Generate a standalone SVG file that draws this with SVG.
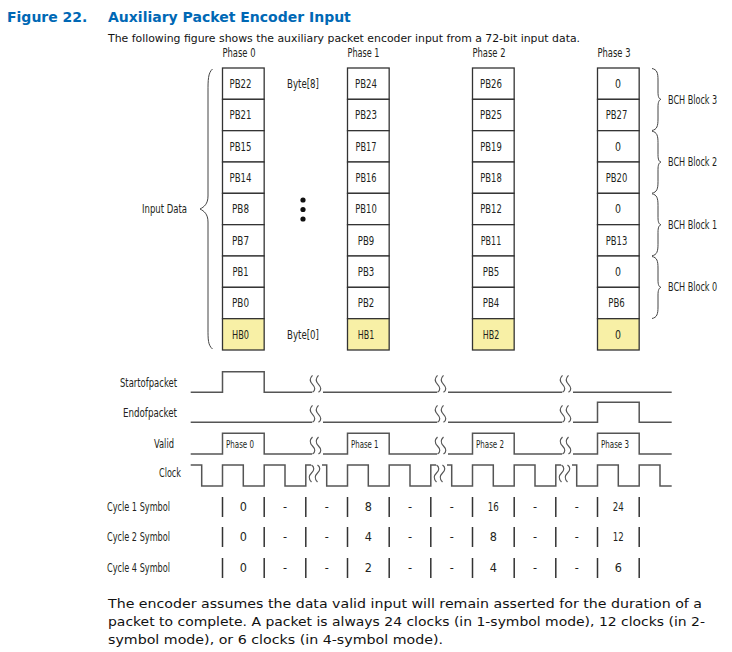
<svg xmlns="http://www.w3.org/2000/svg" width="732" height="652" viewBox="0 0 732 652">
<style>
.c{font-family:"DejaVu Sans Condensed","Liberation Sans Narrow","Liberation Sans",sans-serif;fill:#231f20}
.f12{font-size:12.5px}
.f10{font-size:10px}
.cell{fill:#fff;stroke:#333;stroke-width:1.3}
.hb{fill:#f8f0a6;stroke:#333;stroke-width:1.3}
.t{font-size:13px;text-anchor:middle}
.brace{fill:none;stroke:#444;stroke-width:1}
.w{fill:none;stroke:#555;stroke-width:1.5}
.bar{stroke:#333;stroke-width:1.5}
.hdr{font-family:"DejaVu Sans",Verdana,sans-serif;font-weight:bold;font-size:14px;fill:#0068b5}
.body{font-family:"DejaVu Sans",Tahoma,sans-serif;fill:#111}
</style>
<defs>
<path id="sq" d="M-5,0 c3,-2 3,-5 0,-8 c-3,-3 -3,-6 0,-9 M1,0 c3,-2 3,-5 0,-8 c-3,-3 -3,-6 0,-9" class="brace" style="stroke:#555;stroke-width:1.2"/>
<path id="sqd" d="M-5,0 c3,2 3,5 0,8 c-3,3 -3,6 0,9 M1,0 c3,2 3,5 0,8 c-3,3 -3,6 0,9" class="brace" style="stroke:#555;stroke-width:1.2"/>
</defs>
<text class="hdr" x="7" y="22">Figure 22.</text>
<text class="hdr" x="108" y="22">Auxiliary Packet Encoder Input</text>
<text class="body" x="108" y="42" font-size="10" textLength="472" lengthAdjust="spacingAndGlyphs">The following figure shows the auxiliary packet encoder input from a 72-bit input data.</text>

<g id="phase0">
<text class="c f12" x="222.5" y="57" textLength="33" lengthAdjust="spacingAndGlyphs">Phase 0</text>
<rect class="cell" x="222.5" y="68" width="41.67" height="31.33"/>
<rect class="cell" x="222.5" y="99.33" width="41.67" height="31.33"/>
<rect class="cell" x="222.5" y="130.67" width="41.67" height="31.33"/>
<rect class="cell" x="222.5" y="162" width="41.67" height="31.33"/>
<rect class="cell" x="222.5" y="193.33" width="41.67" height="31.33"/>
<rect class="cell" x="222.5" y="224.67" width="41.67" height="31.33"/>
<rect class="cell" x="222.5" y="256" width="41.67" height="31.33"/>
<rect class="cell" x="222.5" y="287.33" width="41.67" height="31.33"/>
<rect class="hb" x="222.5" y="318.67" width="41.67" height="31.33"/>
<g class="c t">
<text x="240.5" y="88" textLength="22" lengthAdjust="spacingAndGlyphs">PB22</text><text x="240.5" y="119.3" textLength="22" lengthAdjust="spacingAndGlyphs">PB21</text><text x="240.5" y="150.7" textLength="22" lengthAdjust="spacingAndGlyphs">PB15</text><text x="240.5" y="182" textLength="22" lengthAdjust="spacingAndGlyphs">PB14</text><text x="240.5" y="213.3" textLength="17" lengthAdjust="spacingAndGlyphs">PB8</text><text x="240.5" y="244.7" textLength="17" lengthAdjust="spacingAndGlyphs">PB7</text><text x="240.5" y="276" textLength="16" lengthAdjust="spacingAndGlyphs">PB1</text><text x="240.5" y="307.3" textLength="17" lengthAdjust="spacingAndGlyphs">PB0</text><text x="240.5" y="338.7" textLength="17" lengthAdjust="spacingAndGlyphs">HB0</text>
</g>
</g>
<g id="phase1">
<text class="c f12" x="347.5" y="57" textLength="32" lengthAdjust="spacingAndGlyphs">Phase 1</text>
<rect class="cell" x="347.5" y="68" width="41.67" height="31.33"/>
<rect class="cell" x="347.5" y="99.33" width="41.67" height="31.33"/>
<rect class="cell" x="347.5" y="130.67" width="41.67" height="31.33"/>
<rect class="cell" x="347.5" y="162" width="41.67" height="31.33"/>
<rect class="cell" x="347.5" y="193.33" width="41.67" height="31.33"/>
<rect class="cell" x="347.5" y="224.67" width="41.67" height="31.33"/>
<rect class="cell" x="347.5" y="256" width="41.67" height="31.33"/>
<rect class="cell" x="347.5" y="287.33" width="41.67" height="31.33"/>
<rect class="hb" x="347.5" y="318.67" width="41.67" height="31.33"/>
<g class="c t">
<text x="366" y="88" textLength="22" lengthAdjust="spacingAndGlyphs">PB24</text><text x="366" y="119.3" textLength="22" lengthAdjust="spacingAndGlyphs">PB23</text><text x="366" y="150.7" textLength="21" lengthAdjust="spacingAndGlyphs">PB17</text><text x="366" y="182" textLength="21" lengthAdjust="spacingAndGlyphs">PB16</text><text x="366" y="213.3" textLength="21.5" lengthAdjust="spacingAndGlyphs">PB10</text><text x="366" y="244.7" textLength="16.5" lengthAdjust="spacingAndGlyphs">PB9</text><text x="366" y="276" textLength="16.5" lengthAdjust="spacingAndGlyphs">PB3</text><text x="366" y="307.3" textLength="16.5" lengthAdjust="spacingAndGlyphs">PB2</text><text x="366" y="338.7" textLength="16.5" lengthAdjust="spacingAndGlyphs">HB1</text>
</g>
</g>
<g id="phase2">
<text class="c f12" x="472.5" y="57" textLength="33" lengthAdjust="spacingAndGlyphs">Phase 2</text>
<rect class="cell" x="472.5" y="68" width="41.67" height="31.33"/>
<rect class="cell" x="472.5" y="99.33" width="41.67" height="31.33"/>
<rect class="cell" x="472.5" y="130.67" width="41.67" height="31.33"/>
<rect class="cell" x="472.5" y="162" width="41.67" height="31.33"/>
<rect class="cell" x="472.5" y="193.33" width="41.67" height="31.33"/>
<rect class="cell" x="472.5" y="224.67" width="41.67" height="31.33"/>
<rect class="cell" x="472.5" y="256" width="41.67" height="31.33"/>
<rect class="cell" x="472.5" y="287.33" width="41.67" height="31.33"/>
<rect class="hb" x="472.5" y="318.67" width="41.67" height="31.33"/>
<g class="c t">
<text x="491" y="88" textLength="22" lengthAdjust="spacingAndGlyphs">PB26</text><text x="491" y="119.3" textLength="22" lengthAdjust="spacingAndGlyphs">PB25</text><text x="491" y="150.7" textLength="21.5" lengthAdjust="spacingAndGlyphs">PB19</text><text x="491" y="182" textLength="21.5" lengthAdjust="spacingAndGlyphs">PB18</text><text x="491" y="213.3" textLength="21.5" lengthAdjust="spacingAndGlyphs">PB12</text><text x="491" y="244.7" textLength="20.5" lengthAdjust="spacingAndGlyphs">PB11</text><text x="491" y="276" textLength="16.5" lengthAdjust="spacingAndGlyphs">PB5</text><text x="491" y="307.3" textLength="16.5" lengthAdjust="spacingAndGlyphs">PB4</text><text x="491" y="338.7" textLength="16.5" lengthAdjust="spacingAndGlyphs">HB2</text>
</g>
</g>
<g id="phase3">
<text class="c f12" x="597.5" y="57" textLength="33" lengthAdjust="spacingAndGlyphs">Phase 3</text>
<rect class="cell" x="597.5" y="68" width="41.67" height="31.33"/>
<rect class="cell" x="597.5" y="99.33" width="41.67" height="31.33"/>
<rect class="cell" x="597.5" y="130.67" width="41.67" height="31.33"/>
<rect class="cell" x="597.5" y="162" width="41.67" height="31.33"/>
<rect class="cell" x="597.5" y="193.33" width="41.67" height="31.33"/>
<rect class="cell" x="597.5" y="224.67" width="41.67" height="31.33"/>
<rect class="cell" x="597.5" y="256" width="41.67" height="31.33"/>
<rect class="cell" x="597.5" y="287.33" width="41.67" height="31.33"/>
<rect class="hb" x="597.5" y="318.67" width="41.67" height="31.33"/>
<g class="c t">
<text x="618" y="88" textLength="6" lengthAdjust="spacingAndGlyphs">0</text><text x="616.5" y="119.3" textLength="21.5" lengthAdjust="spacingAndGlyphs">PB27</text><text x="618" y="150.7" textLength="6" lengthAdjust="spacingAndGlyphs">0</text><text x="616.5" y="182" textLength="21.5" lengthAdjust="spacingAndGlyphs">PB20</text><text x="618" y="213.3" textLength="6" lengthAdjust="spacingAndGlyphs">0</text><text x="616.5" y="244.7" textLength="21.5" lengthAdjust="spacingAndGlyphs">PB13</text><text x="618" y="276" textLength="6" lengthAdjust="spacingAndGlyphs">0</text><text x="616.5" y="307.3" textLength="16.5" lengthAdjust="spacingAndGlyphs">PB6</text><text x="618" y="338.7" textLength="6" lengthAdjust="spacingAndGlyphs">0</text>
</g>
</g>

<g id="bytes">
<text class="c f12" x="303" y="88" text-anchor="middle" textLength="32" lengthAdjust="spacingAndGlyphs">Byte[8]</text>
<text class="c f12" x="303" y="338.7" text-anchor="middle" textLength="32" lengthAdjust="spacingAndGlyphs">Byte[0]</text>
<circle cx="303" cy="200" r="2.6" fill="#111"/>
<circle cx="303" cy="209.5" r="2.6" fill="#111"/>
<circle cx="303" cy="219" r="2.6" fill="#111"/>
</g>

<g id="input-data">
<text class="c f12" x="187" y="213" text-anchor="end" textLength="45" lengthAdjust="spacingAndGlyphs">Input Data</text>
<path class="brace" d="M212.5,69 C208,73 208,80 208,92 L208,196 C208,204 204,207 200,209 C204,211 208,214 208,222 L208,328 C208,340 208,345 212.5,349"/>
</g>

<g id="bch">
<path class="brace" d="M652,68.5 C657,69.5 658,73 658,80 L658,92 C658,97 659,99 661,99.3 C659,100 658,102 658,107 L658,119 C658,126 657,129.5 652,130.5"/>
<text class="c f12" transform="translate(668,103.5) scale(0.72,1)">BCH Block 3</text>
<path class="brace" d="M652,131.2 C657,132.2 658,135.7 658,142.7 L658,154.7 C658,159.7 659,161.7 661,162 C659,162.7 658,164.7 658,169.7 L658,181.7 C658,188.7 657,192.2 652,193.2"/>
<text class="c f12" transform="translate(668,166) scale(0.72,1)">BCH Block 2</text>
<path class="brace" d="M652,193.8 C657,194.8 658,198.3 658,205.3 L658,217.3 C658,222.3 659,224.3 661,224.7 C659,225.3 658,227.3 658,232.3 L658,244.3 C658,251.3 657,254.8 652,255.8"/>
<text class="c f12" transform="translate(668,228.7) scale(0.72,1)">BCH Block 1</text>
<path class="brace" d="M652,256.5 C657,257.5 658,261 658,268 L658,280 C658,285 659,287 661,287.3 C659,288 658,290 658,295 L658,307 C658,314 657,317.5 652,318.5"/>
<text class="c f12" transform="translate(668,291.3) scale(0.72,1)">BCH Block 0</text>
</g>

<g id="signal-labels" class="c f12">
<text x="177" y="387" text-anchor="end" textLength="57" lengthAdjust="spacingAndGlyphs">Startofpacket</text>
<text x="177" y="417" text-anchor="end" textLength="54" lengthAdjust="spacingAndGlyphs">Endofpacket</text>
<text x="174" y="448" text-anchor="end" textLength="20" lengthAdjust="spacingAndGlyphs">Valid</text>
<text x="181" y="477" text-anchor="end" textLength="22" lengthAdjust="spacingAndGlyphs">Clock</text>
<text x="107" y="511" textLength="63" lengthAdjust="spacingAndGlyphs">Cycle 1 Symbol</text>
<text x="107" y="541" textLength="63" lengthAdjust="spacingAndGlyphs">Cycle 2 Symbol</text>
<text x="107" y="572" textLength="63" lengthAdjust="spacingAndGlyphs">Cycle 4 Symbol</text>
</g>

<g id="waveforms">
<path class="w" d="M190.7,392.3 H222.5 V371.7 H264.2 V392.3 H312 M323,392.3 H437 M448,392.3 H562 M573,392.3 H671.7"/>
<use href="#sq" x="317.5" y="392.3"/><use href="#sq" x="442.5" y="392.3"/><use href="#sq" x="567.5" y="392.3"/>
<path class="w" d="M190.7,422.3 H312 M323,422.3 H437 M448,422.3 H562 M573,422.3 H597.5 V402.3 H639.2 V422.3 H671.7"/>
<use href="#sq" x="317.5" y="422.3"/><use href="#sq" x="442.5" y="422.3"/><use href="#sq" x="567.5" y="422.3"/>
<path class="w" d="M190.7,454 H222.5 V433.3 H264.2 V454 H312 M323,454 H347.5 V433.3 H389.2 V454 H437 M448,454 H472.5 V433.3 H514.2 V454 H562 M573,454 H597.5 V433.3 H639.2 V454 H671.7"/>
<use href="#sq" x="317.5" y="454"/><use href="#sq" x="442.5" y="454"/><use href="#sq" x="567.5" y="454"/>
<g class="c f10">
<text x="226" y="448" textLength="28" lengthAdjust="spacingAndGlyphs">Phase 0</text><text x="351" y="448" textLength="27.5" lengthAdjust="spacingAndGlyphs">Phase 1</text><text x="476" y="448" textLength="28" lengthAdjust="spacingAndGlyphs">Phase 2</text><text x="601" y="448" textLength="28" lengthAdjust="spacingAndGlyphs">Phase 3</text>
</g>
<path class="w" d="M190.7,465 H201.7 V486 H222.5 V465 H243.3 V486 H264.2 V465 H285 V486 H305.8 V465 H311 M322,465 H326.7 V486 H347.5 V465 H368.3 V486 H389.2 V465 H410 V486 H430.8 V465 H436 M447,465 H451.7 V486 H472.5 V465 H493.3 V486 H514.2 V465 H535 V486 H555.8 V465 H561 M572,465 H576.7 V486 H597.5 V465 H618.3 V486 H639.2 V465 H660 V486 H671.7"/>
<use href="#sqd" x="316.5" y="465"/><use href="#sqd" x="441.5" y="465"/><use href="#sqd" x="566.5" y="465"/>
</g>

<g id="cycles">
<g class="bar">
<path d="M222.5,497V517M264.2,497V517M305.8,497V517M347.5,497V517M389.2,497V517M430.8,497V517M472.5,497V517M514.2,497V517M555.8,497V517M597.5,497V517M639.2,497V517"/>
<path d="M222.5,527V547M264.2,527V547M305.8,527V547M347.5,527V547M389.2,527V547M430.8,527V547M472.5,527V547M514.2,527V547M555.8,527V547M597.5,527V547M639.2,527V547"/>
<path d="M222.5,558V578M264.2,558V578M305.8,558V578M347.5,558V578M389.2,558V578M430.8,558V578M472.5,558V578M514.2,558V578M555.8,558V578M597.5,558V578M639.2,558V578"/>
</g>
<g class="c f12" text-anchor="middle">
<text x="243.3" y="511">0</text><text x="285" y="511">-</text><text x="326.7" y="511">-</text><text x="368.3" y="511">8</text><text x="410" y="511">-</text><text x="451.7" y="511">-</text><text x="493.3" y="511" textLength="11" lengthAdjust="spacingAndGlyphs">16</text><text x="535" y="511">-</text><text x="576.7" y="511">-</text><text x="618.3" y="511" textLength="11" lengthAdjust="spacingAndGlyphs">24</text>
<text x="243.3" y="541">0</text><text x="285" y="541">-</text><text x="326.7" y="541">-</text><text x="368.3" y="541">4</text><text x="410" y="541">-</text><text x="451.7" y="541">-</text><text x="493.3" y="541">8</text><text x="535" y="541">-</text><text x="576.7" y="541">-</text><text x="618.3" y="541" textLength="11" lengthAdjust="spacingAndGlyphs">12</text>
<text x="243.3" y="572">0</text><text x="285" y="572">-</text><text x="326.7" y="572">-</text><text x="368.3" y="572">2</text><text x="410" y="572">-</text><text x="451.7" y="572">-</text><text x="493.3" y="572">4</text><text x="535" y="572">-</text><text x="576.7" y="572">-</text><text x="618.3" y="572">6</text>
</g>
</g>

<g class="body" font-size="13">
<text x="108" y="608" textLength="594" lengthAdjust="spacingAndGlyphs">The encoder assumes the data valid input will remain asserted for the duration of a</text>
<text x="108" y="626" textLength="597" lengthAdjust="spacingAndGlyphs">packet to complete. A packet is always 24 clocks (in 1-symbol mode), 12 clocks (in 2-</text>
<text x="108" y="644" textLength="335" lengthAdjust="spacingAndGlyphs">symbol mode), or 6 clocks (in 4-symbol mode).</text>
</g>
</svg>
